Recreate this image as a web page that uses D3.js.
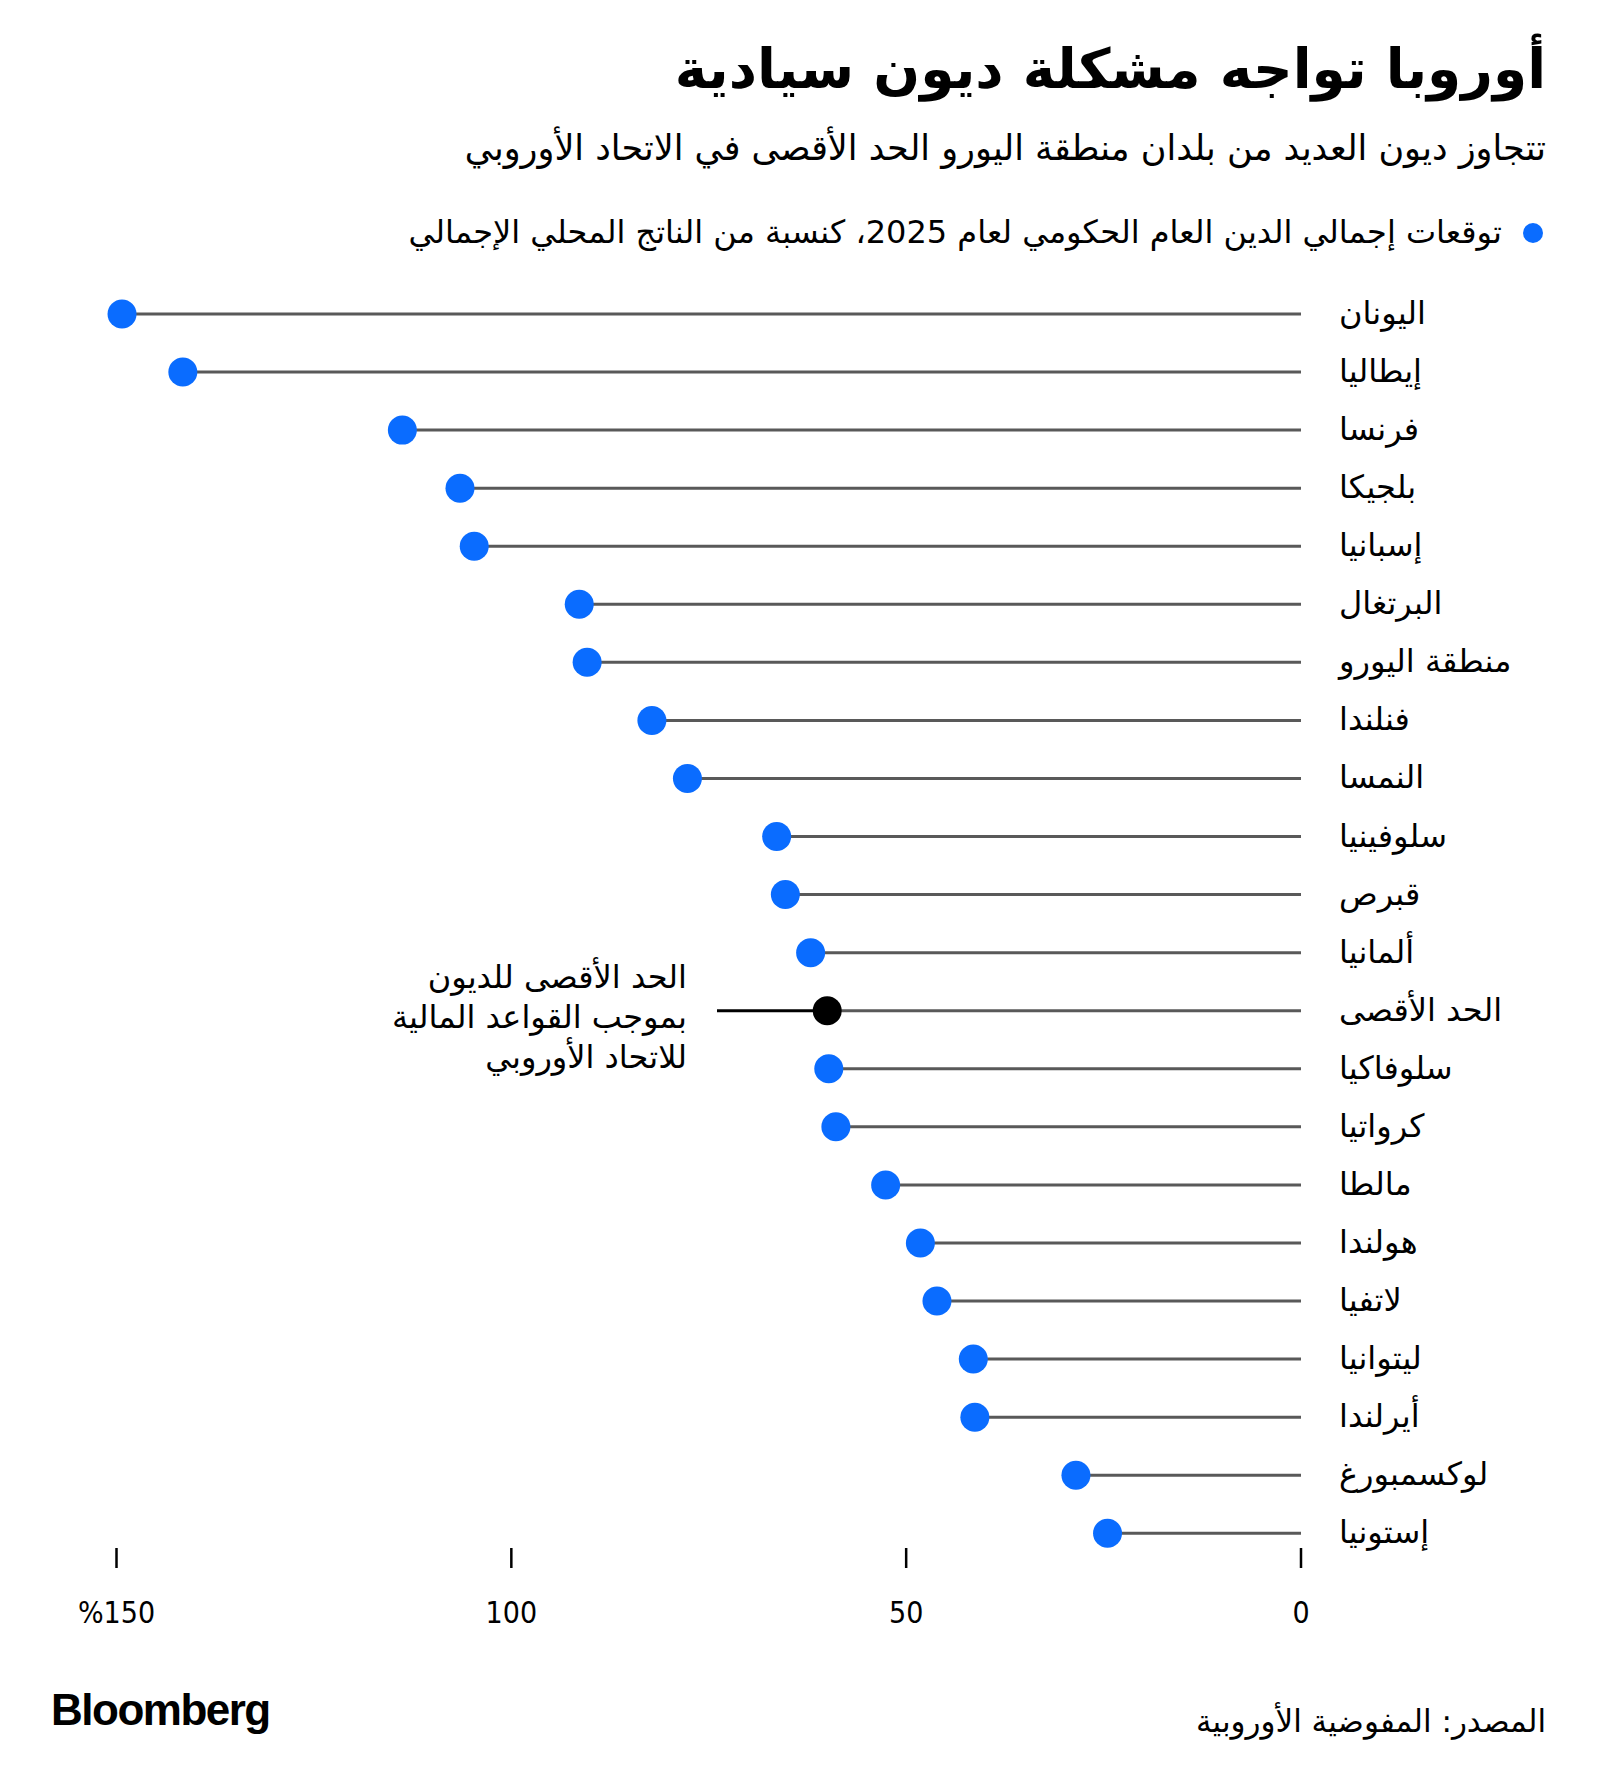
<!DOCTYPE html>
<html>
<head>
<meta charset="utf-8">
<script src="https://cdn.jsdelivr.net/npm/d3@7"></script>
<style>
  body { margin: 0; background: #fff; }
  svg text { font-family: "DejaVu Sans", sans-serif; }
</style>
</head>
<body>
<div id="chart"></div>
<script>
// Countries, top to bottom
const countries = [
  "اليونان", "إيطاليا", "فرنسا", "بلجيكا", "إسبانيا", "البرتغال", "منطقة اليورو",
  "فنلندا", "النمسا", "سلوفينيا", "قبرص", "ألمانيا", "الحد الأقصى", "سلوفاكيا",
  "كرواتيا", "مالطا", "هولندا", "لاتفيا", "ليتوانيا", "أيرلندا", "لوكسمبورغ", "إستونيا"
];
// 2025 general government debt forecast, % of GDP
const debt = [
  149.3, 141.6, 113.8, 106.5, 104.7, 91.4, 90.4,
  82.2, 77.7, 66.4, 65.3, 62.1, 60, 59.8,
  58.9, 52.6, 48.2, 46.1, 41.5, 41.3, 28.5, 24.5
];
const limitName = "الحد الأقصى";
const ticks = [0, 50, 100, 150];
const tickLabels = ["0", "50", "100", "%150"];
const noteLines = ["الحد الأقصى للديون", "بموجب القواعد المالية", "للاتحاد الأوروبي"];

const width = 1600, height = 1789;
const blue = "#0a6cff";

const svg = d3.select("#chart").append("svg")
  .attr("width", width)
  .attr("height", height);

// Scales
const x = d3.scaleLinear().domain([0, 150]).range([1301, 116.5]);
const y = d3.scalePoint().domain(countries).range([314, 1533.3]);

// Title block
svg.append("text")
  .attr("x", 1546).attr("y", 88)
  .attr("direction", "rtl").attr("text-anchor", "start")
  .attr("font-size", 55).attr("font-weight", "bold")
  .text("أوروبا تواجه مشكلة ديون سيادية");

svg.append("text")
  .attr("x", 1546).attr("y", 160)
  .attr("direction", "rtl").attr("text-anchor", "start")
  .attr("font-size", 35)
  .text("تتجاوز ديون العديد من بلدان منطقة اليورو الحد الأقصى في الاتحاد الأوروبي");

// Legend
svg.append("circle").attr("cx", 1533).attr("cy", 233).attr("r", 10).attr("fill", blue);
svg.append("text")
  .attr("x", 1502).attr("y", 243)
  .attr("direction", "rtl").attr("text-anchor", "start")
  .attr("font-size", 32)
  .text("توقعات إجمالي الدين العام الحكومي لعام 2025، كنسبة من الناتج المحلي الإجمالي");

const data = countries.map((c, i) => ({ name: c, value: debt[i] }));

// Stems
svg.append("g").selectAll("line")
  .data(data).enter().append("line")
  .attr("x1", x(0))
  .attr("x2", d => x(d.value))
  .attr("y1", d => y(d.name))
  .attr("y2", d => y(d.name))
  .attr("stroke", "#595959")
  .attr("stroke-width", 3);

// Annotation leader line for the limit
const limit = data.find(d => d.name === limitName);
svg.append("line")
  .attr("x1", 717).attr("x2", x(limit.value))
  .attr("y1", y(limitName)).attr("y2", y(limitName))
  .attr("stroke", "#000").attr("stroke-width", 3);

// Dots
svg.append("g").selectAll("circle")
  .data(data).enter().append("circle")
  .attr("cx", d => x(d.value))
  .attr("cy", d => y(d.name))
  .attr("r", 14.5)
  .attr("fill", d => d.name === limitName ? "#000" : blue);

// Country labels
svg.append("g").selectAll("text")
  .data(data).enter().append("text")
  .attr("x", 1339)
  .attr("y", d => y(d.name) + 10)
  .attr("direction", "rtl").attr("text-anchor", "end")
  .attr("font-size", 32)
  .text(d => d.name);

// Annotation text
svg.append("g").selectAll("text")
  .data(noteLines).enter().append("text")
  .attr("x", 687)
  .attr("y", (d, i) => 988 + i * 40)
  .attr("direction", "rtl").attr("text-anchor", "start")
  .attr("font-size", 32)
  .text(d => d);

// Axis
const axis = svg.append("g");
axis.selectAll("line")
  .data(ticks).enter().append("line")
  .attr("x1", d => x(d)).attr("x2", d => x(d))
  .attr("y1", 1548).attr("y2", 1568)
  .attr("stroke", "#000").attr("stroke-width", 2.5);
axis.selectAll("text")
  .data(ticks).enter().append("text")
  .attr("x", d => x(d))
  .attr("y", 1623)
  .attr("text-anchor", "middle")
  .style("font-family", "'DejaVu Sans Condensed', 'DejaVu Sans', sans-serif")
  .attr("font-size", 30)
  .text((d, i) => tickLabels[i]);

// Footer
svg.append("text")
  .attr("x", 51).attr("y", 1725)
  .style("font-family", "'Liberation Sans', Arial, sans-serif")
  .attr("font-size", 44).attr("font-weight", "bold")
  .attr("letter-spacing", -1.5)
  .text("Bloomberg");

svg.append("text")
  .attr("x", 1546).attr("y", 1732)
  .attr("direction", "rtl").attr("text-anchor", "start")
  .attr("font-size", 31)
  .text("المصدر: المفوضية الأوروبية");
</script>
</body>
</html>
